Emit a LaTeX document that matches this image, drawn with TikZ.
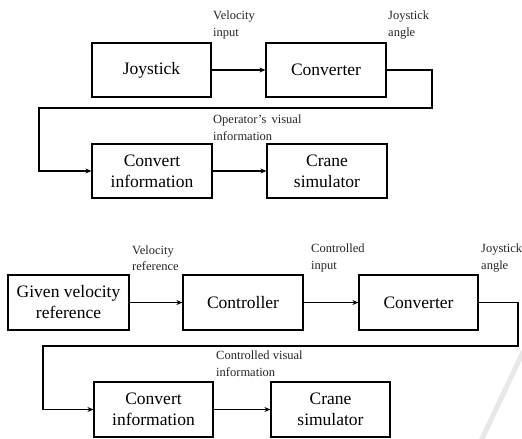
\documentclass[tikz,border=0pt]{standalone}
\usepackage{fontspec}
\setmainfont{Liberation Serif}
\usetikzlibrary{arrows.meta}
\begin{document}
\begin{tikzpicture}[x=1pt,y=-1pt,
  blk/.style={draw,line width=1.2pt,rectangle,minimum height=54pt,align=center,inner sep=0pt,
    font=\fontsize{17.5}{21}\selectfont},
  lbl/.style={anchor=west,align=left,inner sep=0pt,font=\fontsize{12.5}{16.5}\selectfont,text=black!85},
  conn/.style={line width=1.6pt,-{Stealth[length=6pt,width=5pt]}},
  wire/.style={line width=1.6pt}]
\useasboundingbox (0,0) rectangle (522,439);
% watermark stroke
\draw[line width=5pt,color=gray!18,line cap=round] (523,352) -- (481,441);
% top diagram
\node[blk,minimum width=119pt] (j) at (151.5,70) {Joystick};
\node[blk,minimum width=120pt] (c1) at (326,70) {Converter};
\node[blk,minimum width=120pt] (ci1) at (152,171) {Convert\\information};
\node[blk,minimum width=120pt] (cs1) at (327,171) {Crane\\simulator};
\coordinate (r1a) at (432,70);
\coordinate (r1b) at (432,108);
\coordinate (r1c) at (39,108);
\coordinate (r1d) at (39,171);
\draw[conn] (j) -- (c1);
\draw[conn] (c1.east) -- (r1a) -- (r1b) -- (r1c) -- (r1d) -- (ci1.west);
\draw[conn] (ci1) -- (cs1);
\node[lbl] (l1) at (213,25) {Velocity\\input};
\node[lbl] (l2) at (388,25) {Joystick\\angle};
\node[lbl] (l3) at (213,127.5) {Operator’s\, visual\\information};
% bottom diagram
\node[blk,minimum width=121pt,minimum height=55pt] (g) at (68.5,302.5) {Given velocity\\reference};
\node[blk,minimum width=120pt,minimum height=55pt] (ct) at (243,302.5) {Controller};
\node[blk,minimum width=119pt,minimum height=55pt] (c2) at (418.5,302.5) {Converter};
\node[blk,minimum width=119pt,minimum height=55pt] (ci2) at (153.5,409.5) {Convert\\information};
\node[blk,minimum width=119pt,minimum height=55pt] (cs2) at (330.5,409.5) {Crane\\simulator};
\coordinate (r2a) at (518,302.5);
\coordinate (r2b) at (518,346);
\coordinate (r2c) at (43,346);
\coordinate (r2d) at (43,409.5);
\draw[conn] (g) -- (ct);
\draw[conn] (ct) -- (c2);
\draw[conn] (c2.east) -- (r2a) -- (r2b) -- (r2c) -- (r2d) -- (ci2.west);
\draw[conn] (ci2) -- (cs2);
\node[lbl] (l4) at (132,258) {Velocity\\reference};
\node[lbl] (l5) at (311,258) {Controlled\\input};
\node[lbl] (l6) at (481,258) {Joystick\\angle};
\node[lbl] (l7) at (216,363.5) {Controlled visual\\information};
\end{tikzpicture}
\end{document}
